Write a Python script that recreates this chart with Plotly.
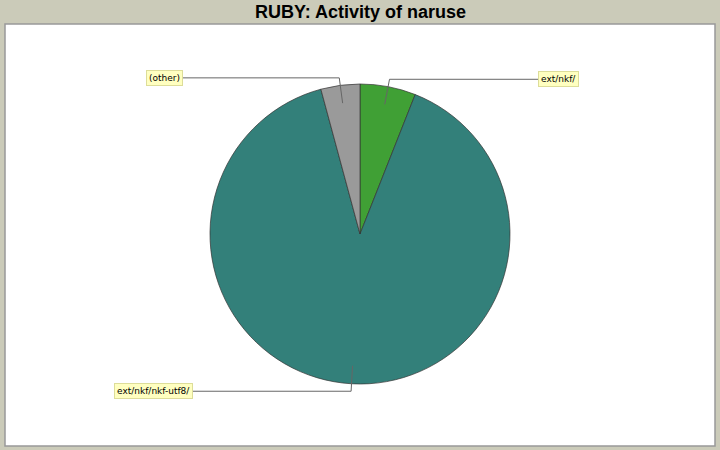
import math
import plotly.graph_objects as go

labels = ["ext/nkf/", "ext/nkf/nkf-utf8/", "(other)"]
values = [6.0, 89.8, 4.2]
colors = ["#40a035", "#33807a", "#9a9a9a"]
# horizontal end of each label leader (pixels from pie centre; negative = left)
label_dx = [178, -167, -177]

W, H = 720, 450
cx, cy, r = 360, 234, 150

def px(x):
    return x / W

def py(y):
    return 1 - y / H

fig = go.Figure(go.Pie(
    labels=labels, values=values, sort=False, direction="clockwise",
    rotation=0, textinfo="none", hoverinfo="label+percent",
    marker=dict(colors=colors, line=dict(color="#333333", width=0.7)),
    domain=dict(x=[px(cx - r), px(cx + r)], y=[py(cy + r), py(cy - r)]),
    showlegend=False,
))

shapes = [dict(type="rect", xref="paper", yref="paper",
               x0=px(5), x1=px(715), y0=py(446), y1=py(24),
               fillcolor="white", line=dict(color="#999999", width=1.5),
               layer="below")]
annotations = [dict(text="<b>RUBY: Activity of naruse</b>", xref="paper", yref="paper",
                    x=0.5, y=py(12), xanchor="center", yanchor="middle", showarrow=False,
                    font=dict(family="Liberation Sans, Arial, sans-serif", size=18, color="black"))]

total = sum(values)
cum = 0.0
for lab, v, dx in zip(labels, values, label_dx):
    mid = (cum + v / 2) / total * 2 * math.pi
    cum += v
    sx, sy = math.sin(mid), -math.cos(mid)
    x1, y1 = cx + 0.88 * r * sx, cy + 0.88 * r * sy
    x2, y2 = cx + 1.05 * r * sx, cy + 1.05 * r * sy
    xe = cx + dx
    line = dict(color="#666666", width=1)
    shapes.append(dict(type="line", xref="paper", yref="paper",
                       x0=px(x1), y0=py(y1), x1=px(x2), y1=py(y2), line=line))
    shapes.append(dict(type="line", xref="paper", yref="paper",
                       x0=px(x2), y0=py(y2), x1=px(xe), y1=py(y2), line=line))
    annotations.append(dict(text=lab, xref="paper", yref="paper",
                            x=px(xe), y=py(y2), xanchor="left" if dx > 0 else "right",
                            yanchor="middle", showarrow=False,
                            bgcolor="#ffffc0", bordercolor="#dddd99", borderwidth=1,
                            borderpad=2,
                            font=dict(family="DejaVu Sans, sans-serif", size=9, color="black")))

fig.update_layout(width=W, height=H, margin=dict(l=0, r=0, t=0, b=0),
                  paper_bgcolor="#cbcbb9", plot_bgcolor="#cbcbb9",
                  shapes=shapes, annotations=annotations)
fig.write_html("out.html", config={"displayModeBar": False},
               post_script="document.body.style.margin='0';")
